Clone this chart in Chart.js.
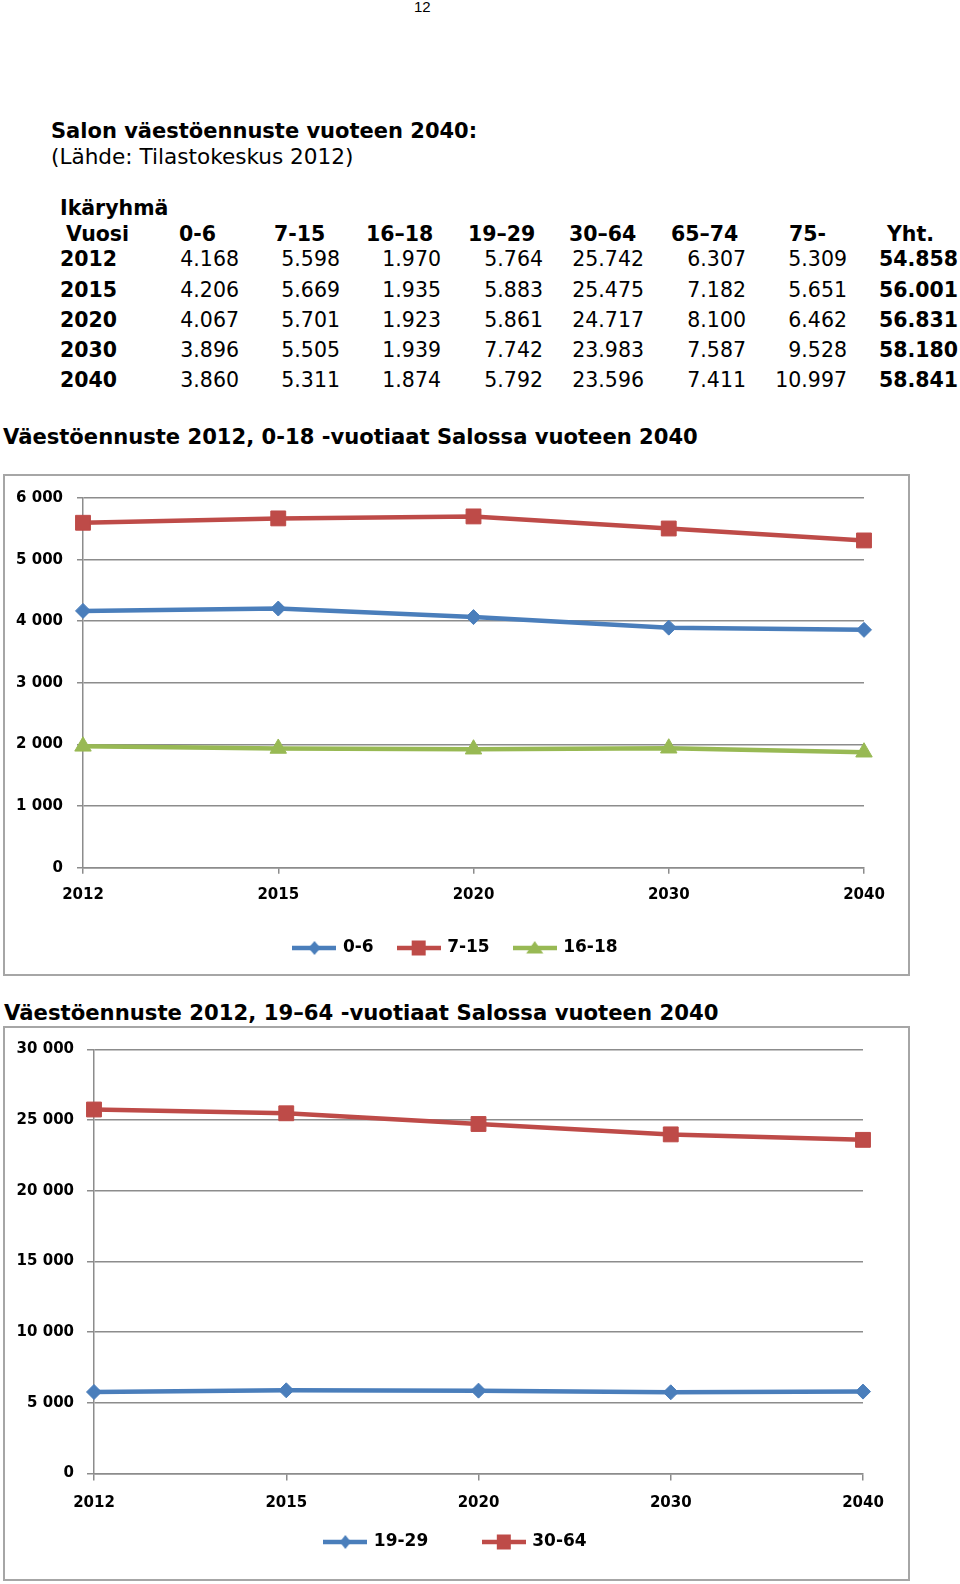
<!DOCTYPE html>
<html>
<head>
<meta charset="utf-8">
<script src="https://cdn.jsdelivr.net/npm/chart.js@4.4.0/dist/chart.umd.min.js"></script>
<style>
  body { margin: 0; width: 960px; height: 1584px; background: #fff; position: relative; overflow: hidden;
         font-family: "DejaVu Sans", Verdana, sans-serif; color: #000; }
  .t { position: absolute; white-space: nowrap; line-height: 1; transform: translateY(-50%); }
  .r { transform: translate(-100%, -50%); }
  .b { font-weight: bold; }
  .tbl { font-size: 20.5px; }
  .box { position: absolute; border: 2px solid #a6a6a6; box-sizing: border-box; }
  .plot { position: absolute; }
</style>
</head>
<body>

<div class="t" style="left:414px;top:6px;font:15px 'Liberation Sans', Arial, sans-serif;">12</div>
<div class="t b" style="left:51px;top:131px;font-size:21px;">Salon väestöennuste vuoteen 2040:</div>
<div class="t" style="left:51px;top:157px;font-size:21.6px;">(Lähde: Tilastokeskus 2012)</div>

<div class="t b" style="left:3px;top:437px;font-size:21.1px;">Väestöennuste 2012, 0-18 -vuotiaat Salossa vuoteen 2040</div>
<div class="box" style="left:3px;top:474px;width:907px;height:502px;"></div>
<div class="plot" style="left:4px;top:475px;width:904px;height:499px;"><canvas id="chart1"></canvas></div>

<div class="t b" style="left:4px;top:1013px;font-size:21.2px;">Väestöennuste 2012, 19–64 -vuotiaat Salossa vuoteen 2040</div>
<div class="box" style="left:3px;top:1026px;width:907px;height:555px;"></div>
<div class="plot" style="left:4px;top:1027px;width:904px;height:552px;"><canvas id="chart2"></canvas></div>

<script>
// vuodet ja ikäryhmät
const years = ['2012', '2015', '2020', '2030', '2040'];
const headers = ['0-6', '7-15', '16–18', '19–29', '30–64', '65–74', '75-', 'Yht.'];

// taulukon arvot (Tilastokeskus 2012)
const age0_6 = [4168, 4206, 4067, 3896, 3860];
const age7_15 = [5598, 5669, 5701, 5505, 5311];
const age16_18 = [1970, 1935, 1923, 1939, 1874];
const age19_29 = [5764, 5883, 5861, 7742, 5792];
const age30_64 = [25742, 25475, 24717, 23983, 23596];
const age65_74 = [6307, 7182, 8100, 7587, 7411];
const age75 = [5309, 5651, 6462, 9528, 10997];
const total = [54858, 56001, 56831, 58180, 58841];

// kuvaajassa 19-29 vuoden 2030 piste on n. 5 742 (taulukossa 7.742)
const age19_29Chart = [5764, 5883, 5861, 5742, 5792];

const yMax1 = 6000, yStep1 = 1000;
const yMax2 = 30000, yStep2 = 5000;

const blue = '#4a7ebb';
const red = '#be4b48';
const green = '#98b954';
const gridColor = '#8c8c8c';

const fmt = (v, sep) => String(v).replace(/\B(?=(\d{3})+(?!\d))/g, sep);

// taulukko
const put = (text, x, y, cls) => {
  const el = document.createElement('div');
  el.className = 't tbl ' + cls;
  el.style.left = x + 'px';
  el.style.top = y + 'px';
  el.textContent = text;
  document.body.appendChild(el);
};

const headerX = [179, 274, 366, 468, 569, 671, 789, 887];
const valueRight = [239, 340, 441, 543, 644, 746, 847, 958];
const rowY = [259, 290, 320, 350, 380];
const columns = [age0_6, age7_15, age16_18, age19_29, age30_64, age65_74, age75, total];

put('Ikäryhmä', 60, 208, 'b');
put('Vuosi', 66, 234, 'b');
headers.forEach((h, i) => put(h, headerX[i], 234, 'b'));
years.forEach((y, r) => {
  put(y, 60, rowY[r], 'b');
  columns.forEach((col, c) => {
    put(fmt(col[r], '.'), valueRight[c], rowY[r], c === columns.length - 1 ? 'b r' : 'r');
  });
});

// selitteen kuvake: viiva + merkki
const legendIcon = (color, style, w, h) => {
  const c = document.createElement('canvas');
  c.width = 44;
  c.height = 20;
  const g = c.getContext('2d');
  g.strokeStyle = color;
  g.fillStyle = color;
  g.lineWidth = 4.5;
  g.beginPath();
  g.moveTo(0, 10);
  g.lineTo(44, 10);
  g.stroke();
  g.beginPath();
  if (style === 'rectRot') {
    g.moveTo(22, 10 - h); g.lineTo(22 + w, 10); g.lineTo(22, 10 + h); g.lineTo(22 - w, 10);
  } else if (style === 'rect') {
    g.rect(22 - w, 10 - h, 2 * w, 2 * h);
  } else {
    g.moveTo(22, 10 - h); g.lineTo(22 + w, 10 + h * 0.8); g.lineTo(22 - w, 10 + h * 0.8);
  }
  g.closePath();
  g.fill();
  return c;
};

const line = (label, data, color, style, radius) => ({
  label,
  data,
  borderColor: color,
  backgroundColor: color,
  borderWidth: 4.5,
  pointStyle: style,
  pointRadius: radius,
  pointBorderWidth: 1,
  pointBackgroundColor: color,
  pointBorderColor: color,
  tension: 0,
  clip: false,
});

const tickFont = { family: "'DejaVu Sans', Verdana, sans-serif", size: 15, weight: 'bold' };
const legendFont = { family: "'DejaVu Sans', Verdana, sans-serif", size: 17, weight: 'bold' };

// o.gap: lisätila selitteen kohtien väliin (välilyönteinä tekstin perässä)
const makeChart = (id, datasets, icons, o) => {
  new Chart(document.getElementById(id), {
    type: 'line',
    data: { labels: years, datasets },
    options: {
      responsive: true,
      maintainAspectRatio: false,
      animation: false,
      layout: { padding: { left: 0, right: 0, top: o.top, bottom: o.bottom } },
      plugins: {
        tooltip: { enabled: false },
        legend: {
          position: 'bottom',
          labels: {
            font: legendFont,
            color: '#000',
            padding: o.legendPad,
            usePointStyle: true,
            pointStyleWidth: 40,
            generateLabels: (chart) => {
              const items = Chart.defaults.plugins.legend.labels.generateLabels(chart);
              return items.map((item, i) => ({
                ...item,
                text: item.text + (i < items.length - 1 ? o.gap : ''),
                pointStyle: icons[i],
              }));
            },
          },
        },
      },
      scales: {
        x: {
          offset: false,
          grid: { drawOnChartArea: false, drawTicks: true, tickLength: o.tickLen, color: gridColor, lineWidth: 1.5 },
          border: { display: true, color: gridColor, width: 1.5 },
          ticks: { font: tickFont, color: '#000', padding: o.xPad, maxRotation: 0, autoSkip: false },
          afterFit: (s) => { s.height = o.xH; },
        },
        y: {
          min: 0,
          max: o.max,
          ticks: { stepSize: o.step, font: tickFont, color: '#000', padding: o.yPad, callback: (v) => fmt(v, ' ') },
          grid: { color: gridColor, lineWidth: 1.5, tickLength: o.tickLen },
          border: { display: true, color: gridColor, width: 1.5 },
          afterFit: (s) => { s.width = o.yW; },
        },
        yR: {
          position: 'right',
          grid: { display: false },
          border: { display: false },
          ticks: { display: false },
          afterFit: (s) => { s.width = o.rightW; },
        },
      },
    },
  });
};

makeChart('chart1', [
  line('0-6', age0_6, blue, 'rectRot', 7.5),
  line('7-15', age7_15, red, 'rect', 10.5),
  line('16-18', age16_18, green, 'triangle', 9.5),
], [
  legendIcon(blue, 'rectRot', 6, 7),
  legendIcon(red, 'rect', 7, 7.5),
  legendIcon(green, 'triangle', 8.5, 7),
], { max: yMax1, step: yStep1, top: 23, bottom: 7.5, yW: 79, rightW: 44, xH: 46.8, legendPad: 25, gap: '',
     tickLen: 6, yPad: 14, xPad: 12 });

makeChart('chart2', [
  line('19-29', age19_29Chart, blue, 'rectRot', 7.5),
  line('30-64', age30_64, red, 'rect', 10.5),
], [
  legendIcon(blue, 'rectRot', 5.5, 7),
  legendIcon(red, 'rect', 7, 7.5),
], { max: yMax2, step: yStep2, top: 22.3, bottom: 18.5, yW: 90, rightW: 45, xH: 40, legendPad: 20, gap: '\u00a0'.repeat(6),
     tickLen: 7, yPad: 13, xPad: 13.5 });
</script>
</body>
</html>
